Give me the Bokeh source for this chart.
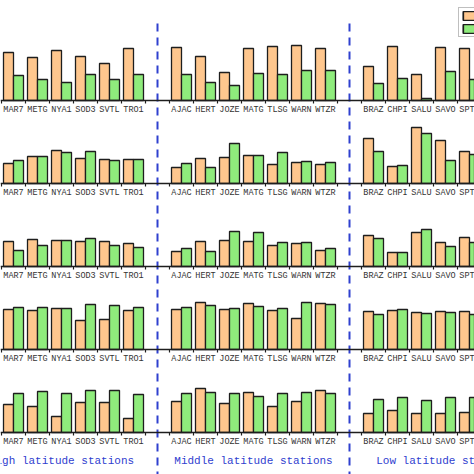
from bokeh.plotting import figure
from bokeh.models import Range1d, ColumnDataSource, Span, Legend, LegendItem
from bokeh.core.properties import value
from bokeh.embed import file_html
from bokeh.resources import INLINE

# ---------------- data ----------------
group_names = ["High latitude stations", "Middle latitude stations", "Low latitude stations"]
stations_high = ["MAR7", "METG", "NYA1", "SOD3", "SVTL", "TRO1"]
stations_mid = ["AJAC", "HERT", "JOZE", "MATG", "TLSG", "WARN", "WTZR"]
stations_low = ["BRAZ", "CHPI", "SALU", "SAVO", "SPTU"]

# values per panel row (orange series / green series), stations in order high + mid + low
orange_row1 = [48, 43, 50, 44, 37, 52, 53, 44, 28, 52, 54, 55, 52, 34, 54, 26, 53, 52]
green_row1 = [25, 21, 18, 26, 21, 26, 26, 18, 15, 27, 26, 30, 30, 17, 22, 2, 29, 21]
orange_row2 = [20, 27, 33, 25, 24, 24, 16, 25, 26, 28, 19, 21, 19, 45, 17, 56, 43, 32]
green_row2 = [23, 27, 31, 32, 23, 24, 20, 16, 40, 28, 31, 22, 21, 32, 18, 50, 23, 29]
orange_row3 = [25, 27, 26, 25, 25, 23, 15, 25, 26, 25, 21, 23, 16, 31, 14, 34, 24, 29]
green_row3 = [16, 21, 26, 28, 21, 19, 18, 15, 35, 34, 24, 24, 18, 28, 14, 37, 20, 24]
orange_row4 = [40, 39, 41, 29, 30, 39, 40, 47, 40, 46, 39, 31, 46, 38, 39, 37, 38, 38]
green_row4 = [42, 42, 41, 45, 44, 42, 42, 44, 41, 43, 41, 47, 45, 35, 40, 36, 37, 35]
orange_row5 = [28, 26, 16, 30, 30, 14, 31, 44, 29, 40, 26, 31, 42, 19, 22, 19, 19, 20]
green_row5 = [39, 41, 39, 42, 42, 38, 39, 40, 39, 36, 39, 40, 39, 33, 35, 32, 35, 35]

orange_rows = [orange_row1, orange_row2, orange_row3, orange_row4, orange_row5]
green_rows = [green_row1, green_row2, green_row3, green_row4, green_row5]

# ---------------- layout ----------------
W = H = 474
SLOT_PX = 24.0               # pixels per station slot
PX = 1.0 / SLOT_PX           # one pixel in slot units
GROUP_STRIDE = 8             # 7 station slots + 1 gap slot
SLOTS_PER_GROUP = 7
first_slot = [1, 0, 0]       # high-latitude group: first slot lies outside the crop
ROW_STEP = 83
TOP_BASE = 374
ORANGE = "#FFC78E"
GREEN = "#8FEC7C"
EDGE = "#1e1e1e"
BLUE = "#2f40cf"

groups = [stations_high, stations_mid, stations_low]
slot_x, names = [], []
for gi, sts in enumerate(groups):
    for k, s in enumerate(sts):
        slot_x.append(gi * GROUP_STRIDE + first_slot[gi] + k)
        names.append(s)

x_start = 1 - 1 * PX
p = figure(width=W, height=H, x_range=Range1d(x_start, x_start + W * PX),
           y_range=Range1d(0, H), x_axis_type=None, y_axis_type=None,
           toolbar_location=None, output_backend="svg", min_border=0,
           background_fill_color="white", border_fill_color="white")
p.outline_line_color = None
p.grid.visible = False

orange_rs, green_rs = [], []
for r in range(5):
    base = TOP_BASE - ROW_STEP * r
    src = ColumnDataSource(dict(
        xo=[x + 7 * PX for x in slot_x],
        xg=[x + 17 * PX for x in slot_x],
        bottom=[base] * len(slot_x),
        to=[base + v for v in orange_rows[r]],
        tg=[base + v for v in green_rows[r]],
    ))
    orange_rs.append(p.vbar(x="xo", width=10 * PX, bottom="bottom", top="to", source=src,
                            fill_color=ORANGE, line_color=EDGE, line_width=1.3))
    green_rs.append(p.vbar(x="xg", width=10 * PX, bottom="bottom", top="tg", source=src,
                           fill_color=GREEN, line_color=EDGE, line_width=1.3))
    p.add_layout(Span(location=base, dimension="width", line_color=EDGE, line_width=1.5))
    bounds = sorted(set(slot_x) | set(x + 1 for x in slot_x))
    p.segment(x0=bounds, x1=bounds, y0=[base] * len(bounds), y1=[base - 3] * len(bounds),
              line_color=EDGE, line_width=1.2)
    p.text(x=[x + 0.5 for x in slot_x], y=[base - 9] * len(slot_x), text=names,
           text_font=value("Liberation Mono"), text_font_size="8.5px",
           text_color="#333333", text_align="center", text_baseline="middle")

# group separators
for gi in range(1, 3):
    sep = gi * GROUP_STRIDE - 0.5
    p.segment(x0=[sep], x1=[sep], y0=[451], y1=[0], line_color=BLUE, line_width=2,
              line_dash="8 6")

# group names
p.text(x=[gi * GROUP_STRIDE + SLOTS_PER_GROUP / 2 for gi in range(3)], y=[14] * 3,
       text=group_names, text_font=value("Liberation Mono"), text_font_size="11px",
       text_color=BLUE, text_align="center", text_baseline="middle")

legend = Legend(items=[LegendItem(label=" ", renderers=orange_rs),
                       LegendItem(label="  ", renderers=green_rs)],
                location=(458, 437), padding=2, spacing=2, margin=0,
                glyph_height=11, glyph_width=20, label_height=11,
                label_text_font_size="9px", border_line_color="#808080",
                border_line_width=1.5, background_fill_color="white",
                background_fill_alpha=1)
p.add_layout(legend)

open("out.html", "w").write(file_html(p, INLINE))
